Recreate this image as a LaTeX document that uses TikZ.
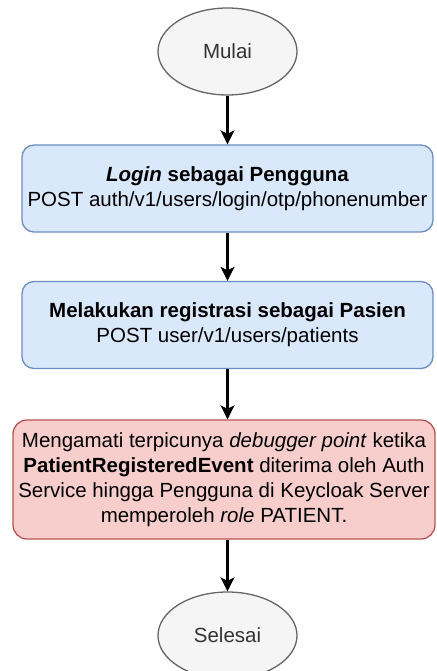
\documentclass[tikz,border=0pt]{standalone}
\usepackage{fontspec}
\setmainfont{Liberation Sans}
\usetikzlibrary{arrows.meta,shapes.geometric}
\definecolor{bluefill}{HTML}{DAE8FC}
\definecolor{bluedraw}{HTML}{6C8EBF}
\definecolor{redfill}{HTML}{F8CECC}
\definecolor{reddraw}{HTML}{B85450}
\definecolor{greyfill}{HTML}{F5F5F5}
\definecolor{greydraw}{HTML}{666666}
\definecolor{greytext}{HTML}{333333}
\tikzset{
  basefont/.style={font=\fontsize{20.5}{25}\selectfont},
  terminal/.style={ellipse, draw=greydraw, fill=greyfill, text=greytext, line width=1.3pt,
    minimum width=139pt, minimum height=87pt, inner sep=0pt, basefont},
  bluebox/.style={rectangle, rounded corners=12pt, draw=bluedraw, fill=bluefill, line width=1.3pt,
    minimum width=411pt, minimum height=87pt, inner sep=0pt, align=center, basefont},
  redbox/.style={rectangle, rounded corners=14pt, draw=reddraw, fill=redfill, line width=1.3pt,
    minimum width=422pt, minimum height=119pt, inner sep=0pt, align=center, basefont},
  flow/.style={-{Stealth[length=14pt,width=14pt,inset=3.5pt]}, line width=2.2pt, black}
}
\begin{document}
\begin{tikzpicture}[x=1pt,y=-1pt]
\useasboundingbox (0,0) rectangle (436,671);
\clip (0,0) rectangle (436,671);
\fill[white] (0,0) rectangle (436,671);
\node[terminal] (start) at (227.5,51.5) {Mulai};
\node[bluebox] (login) at (227.5,188.5) {\textbf{\textit{Login} sebagai Pengguna}\\POST auth/v1/users/login/otp/phonenumber};
\node[bluebox] (reg) at (227.5,325) {\textbf{Melakukan registrasi sebagai Pasien}\\POST user/v1/users/patients};
\node[redbox] (obs) at (224,479.5) {Mengamati terpicunya \textit{debugger point} ketika\\\textbf{PatientRegisteredEvent} diterima oleh Auth\\Service hingga Pengguna di Keycloak Server\\memperoleh \textit{role} PATIENT.};
\node[terminal] (end) at (227.5,635.5) {Selesai};
\draw[flow] (start.south) -- (login.north);
\draw[flow] (login.south) -- (reg.north);
\draw[flow] (reg.south) -- (reg.south |- obs.north);
\draw[flow] (obs.south -| end.north) -- (end.north);
\end{tikzpicture}
\end{document}
